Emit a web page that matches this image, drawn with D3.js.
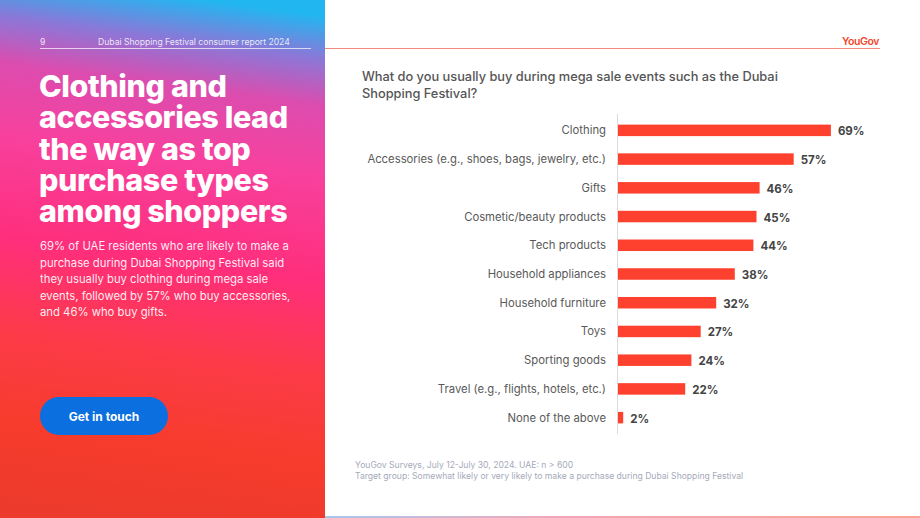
<!DOCTYPE html>
<html>
<head>
<meta charset="utf-8">
<script src="https://cdn.jsdelivr.net/npm/d3@7"></script>
<style>
  body { margin: 0; background: #fff; }
  svg { display: block; font-family: Inter, "Noto Sans", sans-serif; }
</style>
</head>
<body>
<svg id="chart" width="920" height="518"></svg>
<script>
const categories = [
  "Clothing",
  "Accessories (e.g., shoes, bags, jewelry, etc.)",
  "Gifts",
  "Cosmetic/beauty products",
  "Tech products",
  "Household appliances",
  "Household furniture",
  "Toys",
  "Sporting goods",
  "Travel (e.g., flights, hotels, etc.)",
  "None of the above"
];
const values = [69, 57, 46, 45, 44, 38, 32, 27, 24, 22, 2];

const headlineLines = ["Clothing and", "accessories lead", "the way as top", "purchase types", "among shoppers"];
const bodyLines = [
  "69% of UAE residents who are likely to make a",
  "purchase during Dubai Shopping Festival said",
  "they usually buy clothing during mega sale",
  "events, followed by 57% who buy accessories,",
  "and 46% who buy gifts."
];
const questionLines = ["What do you usually buy during mega sale events such as the Dubai", "Shopping Festival?"];
const sourceLines = [
  "YouGov Surveys, July 12-July 30, 2024. UAE: n > 600",
  "Target group: Somewhat likely or very likely to make a purchase during Dubai Shopping Festival"
];

const svg = d3.select("#chart");
const defs = svg.append("defs");

// left panel gradient
const grad = defs.append("linearGradient")
  .attr("id", "panel")
  .attr("gradientUnits", "userSpaceOnUse")
  .attr("x1", 200).attr("y1", 0)
  .attr("x2", 130).attr("y2", 518);
[
  [0, "#22b6f0"],
  [0.08, "#8a78d8"],
  [0.17, "#dc4cae"],
  [0.3, "#f7419e"],
  [0.5, "#ff2e7c"],
  [0.68, "#fc3a48"],
  [0.85, "#f73c2c"],
  [1, "#ec3a2c"]
].forEach(([o, c]) => grad.append("stop").attr("offset", o).attr("stop-color", c));

const foot = defs.append("linearGradient").attr("id", "foot");
foot.append("stop").attr("offset", 0).attr("stop-color", "#a9c6ee");
foot.append("stop").attr("offset", 0.4).attr("stop-color", "#f3a7b6");
foot.append("stop").attr("offset", 1).attr("stop-color", "#fba393");

svg.append("rect")
  .attr("x", 0).attr("y", 0)
  .attr("width", 325).attr("height", 518)
  .attr("fill", "url(#panel)");

// header left
svg.append("text").attr("x", 40).attr("y", 45)
  .attr("fill", "#fff").attr("fill-opacity", 0.85)
  .attr("font-size", 8.6).text("9");
svg.append("text").attr("x", 98).attr("y", 45)
  .attr("fill", "#fff").attr("fill-opacity", 0.85)
  .attr("font-size", 8.6).text("Dubai Shopping Festival consumer report 2024");
svg.append("line")
  .attr("x1", 40).attr("x2", 311).attr("y1", 48.5).attr("y2", 48.5)
  .attr("stroke", "#fff").attr("stroke-opacity", 0.7);

// header right
svg.append("line")
  .attr("x1", 325).attr("x2", 880).attr("y1", 48.5).attr("y2", 48.5)
  .attr("stroke", "#f58a7c");
svg.append("text").attr("x", 879).attr("y", 45)
  .attr("text-anchor", "end")
  .attr("fill", "#f2462f").attr("font-size", 10.5).attr("font-weight", 600)
  .attr("letter-spacing", -0.4)
  .text("YouGov");

// headline
svg.append("g").selectAll("text")
  .data(headlineLines)
  .join("text")
  .attr("x", 39)
  .attr("y", (d, i) => 97 + i * 31.3)
  .attr("fill", "#fff")
  .attr("font-size", 30.5)
  .attr("font-weight", 800)
  .attr("letter-spacing", -0.4)
  .text(d => d);

svg.append("g").selectAll("text")
  .data(bodyLines)
  .join("text")
  .attr("x", 40)
  .attr("y", (d, i) => 250 + i * 16.5)
  .attr("fill", "#fff")
  .attr("fill-opacity", 0.92)
  .attr("font-size", 11.3)
  .text(d => d);

// button
svg.append("rect")
  .attr("x", 40).attr("y", 397)
  .attr("width", 128).attr("height", 38)
  .attr("rx", 19)
  .attr("fill", "#0b6fdf");
svg.append("text")
  .attr("x", 104).attr("y", 420.5)
  .attr("text-anchor", "middle")
  .attr("fill", "#fff")
  .attr("font-size", 12).attr("font-weight", 700)
  .text("Get in touch");

// question
svg.append("g").selectAll("text")
  .data(questionLines)
  .join("text")
  .attr("x", 362)
  .attr("y", (d, i) => 81 + i * 17)
  .attr("fill", "#555")
  .attr("font-size", 12.8)
  .attr("font-weight", 500)
  .text(d => d);

// bars
const x = d3.scaleLinear().domain([0, 100]).range([617, 927]);
const y = d3.scaleBand().domain(categories).range([116, 432])
  .paddingInner(0.6).paddingOuter(0.3);

const data = categories.map((c, i) => ({ name: c, value: values[i] }));

svg.append("line")
  .attr("x1", x(0) + 0.5).attr("x2", x(0) + 0.5)
  .attr("y1", 114).attr("y2", 434)
  .attr("stroke", "#dcdcdc");

svg.append("g").selectAll("rect")
  .data(data)
  .join("rect")
  .attr("x", x(0) + 1)
  .attr("y", d => y(d.name))
  .attr("width", d => x(d.value) - x(0) - 1)
  .attr("height", y.bandwidth())
  .attr("fill", "#fe412e");

svg.append("g").selectAll("text")
  .data(data)
  .join("text")
  .attr("x", 606)
  .attr("y", d => y(d.name) + y.bandwidth() / 2)
  .attr("dy", "0.35em")
  .attr("text-anchor", "end")
  .attr("fill", "#595959")
  .attr("font-size", 11.3)
  .text(d => d.name);

svg.append("g").selectAll("text")
  .data(data)
  .join("text")
  .attr("x", d => x(d.value) + 7)
  .attr("y", d => y(d.name) + y.bandwidth() / 2 + 1)
  .attr("dy", "0.35em")
  .attr("fill", "#444")
  .attr("font-size", 11.5)
  .attr("font-weight", 700)
  .text(d => d.value + "%");

// source
svg.append("g").selectAll("text")
  .data(sourceLines)
  .join("text")
  .attr("x", 355)
  .attr("y", (d, i) => 468 + i * 10.5)
  .attr("fill", "#a5a9ba")
  .attr("font-size", 8.6)
  .text(d => d);

svg.append("rect")
  .attr("x", 325).attr("y", 516)
  .attr("width", 595).attr("height", 2)
  .attr("fill", "url(#foot)");
</script>
</body>
</html>
